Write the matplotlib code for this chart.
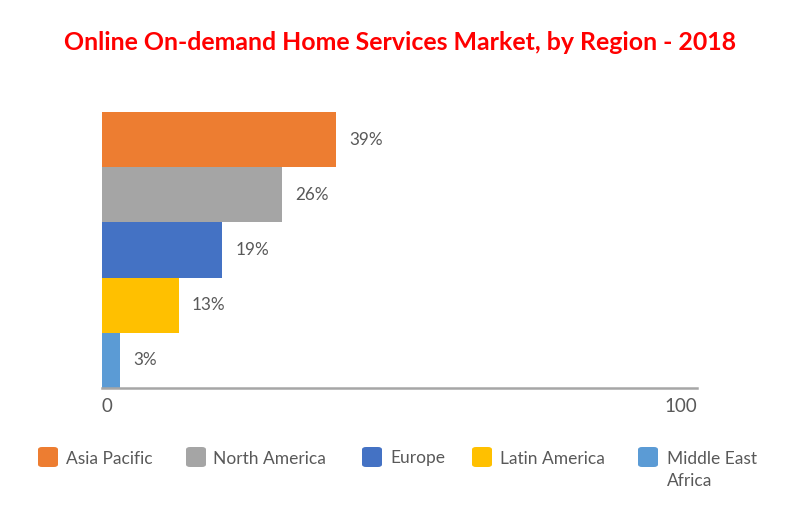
import matplotlib
matplotlib.use("Agg")
import matplotlib.pyplot as plt
from matplotlib.patches import FancyBboxPatch

regions = ["Asia Pacific", "North America", "Europe", "Latin America", "Middle East\nAfrica"]
bar_lengths = [39.3, 30.3, 20.2, 12.9, 3.0]
bar_labels = ["39%", "26%", "19%", "13%", "3%"]
colors = ["#ED7D31", "#A5A5A5", "#4472C4", "#FFC000", "#5B9BD5"]
title = "Online On-demand Home Services Market, by Region - 2018"
xticks = [0, 100]

plt.rcParams['font.family'] = ['Lato', 'DejaVu Sans']
W, H = 800, 526
fig = plt.figure(figsize=(W / 100, H / 100), dpi=100)
ax = fig.add_axes([102 / W, 1 - 388 / H, 595 / W, 276 / H])

ypos = list(range(len(bar_lengths)))
ax.barh(ypos, bar_lengths, height=1.0, color=colors, align='center')
ax.set_ylim(len(bar_lengths) - 0.5, -0.5)
ax.set_xlim(0, 100)
for y, v, t in zip(ypos, bar_lengths, bar_labels):
    ax.annotate(t, (v, y), xytext=(13, 0), textcoords='offset pixels',
                ha='left', va='center', fontsize=12.3, color='#595959')

for s in ['top', 'right', 'left']:
    ax.spines[s].set_visible(False)
ax.spines['bottom'].set_color('#A6A6A6')
ax.spines['bottom'].set_linewidth(1.8)
ax.set_yticks([])
ax.set_xticks(xticks)
ax.set_xticklabels([str(t) for t in xticks], fontsize=13.5, color='#595959')
ax.tick_params(axis='x', length=0, pad=7)
labs = ax.get_xticklabels()
labs[0].set_ha('left')
labs[-1].set_ha('right')

fig.text(400 / W, 1 - 42 / H, title, ha='center', va='center', fontsize=17.9,
         fontweight='bold', color='#FF0000')

# legend
sq_x = [38, 186, 362, 472, 638]
txt_x = [66, 213, 390, 500, 667]
ly = 457
for sx, tx, lab, c in zip(sq_x, txt_x, regions, colors):
    p = FancyBboxPatch((sx / W, 1 - (ly + 10) / H), 20 / W, 20 / H,
                       boxstyle="round,pad=0,rounding_size=0.005",
                       transform=fig.transFigure, facecolor=c, edgecolor='none')
    fig.patches.append(p)
    fig.text(tx / W, 1 - (ly - 6.5) / H, lab, ha='left', va='top', fontsize=12.5,
             color='#595959', linespacing=1.5)

fig.savefig("out.png", dpi=100)
